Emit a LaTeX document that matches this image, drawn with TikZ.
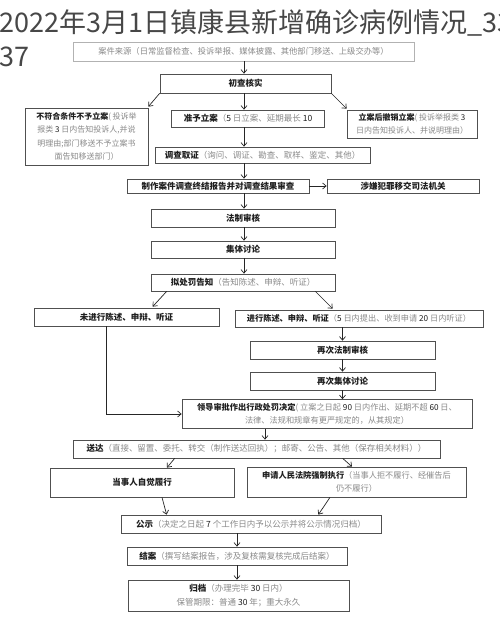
\documentclass[tikz,border=0pt]{standalone}
\usepackage{fontspec}
\setmainfont{Noto Sans CJK SC}
\usetikzlibrary{arrows.meta}
\definecolor{gtx}{HTML}{8A8A8A}
\definecolor{btx}{HTML}{1E1E1E}
\definecolor{bdr}{HTML}{505050}
\newcommand{\gr}[1]{{\mdseries\color{gtx}#1}}
\newcommand{\nb}[1]{{\color{btx}#1}}
\newcommand{\bd}[1]{{\bfseries\color{btx}#1}}
\begin{document}
\begin{tikzpicture}[x=1pt,y=-1pt,
  box/.style={draw=bdr,line width=0.7pt,inner sep=0pt,align=center,font=\fontsize{8.5}{12}\selectfont},
  sz/.style n args={2}{minimum width=#1pt,minimum height=#2pt},
  arr/.style={draw=black!85,line width=0.7pt,-{Straight Barb[length=3.5pt,width=6pt]}}]
\useasboundingbox (0,0) rectangle (500,627);
\fill[white] (0,0) rectangle (500,627);
\clip (0,0) rectangle (500,627);

\node[box,draw=black!30,sz={341}{19},font=\fontsize{8.3}{10}\selectfont] (src) at (243.5,51.5) {\gr{案件来源（日常监督检查、投诉举报、媒体披露、其他部门移送、上级交办等）}};
\node[box,sz={171}{19}] (chk) at (245.5,83.5) {\bd{初查核实}};
\node[box,sz={123}{57},font=\fontsize{8}{13.5}\selectfont] (nofit) at (86.5,136.5) {\bd{不符合条件不予立案}\gr{( 投诉举}\\\gr{报类 \nb{3} 日内告知投诉人,并说}\\\gr{明理由;部门移送不予立案书}\\\gr{面告知移送部门）}};
\node[box,sz={153}{17}] (accept) at (248,118.5) {\bd{准予立案}\gr{（\nb{5} 日立案、延期最长 \nb{10}}};
\node[box,sz={130}{28},font=\fontsize{8}{12.5}\selectfont] (revoke) at (412,124) {\bd{立案后撤销立案}\gr{( 投诉举报类 \nb{3}}\\\gr{日内告知投诉人、并说明理由）}};
\node[box,sz={215}{16}] (inv) at (262.5,155) {\bd{调查取证}\gr{（询问、调证、勘查、取样、鉴定、其他）}};
\node[box,sz={182}{14}] (rep) at (218,186) {\bd{制作案件调查终结报告并对调查结果审查}};
\node[box,sz={152}{14}] (crime) at (403,186) {\bd{涉嫌犯罪移交司法机关}};
\node[box,sz={184}{18}] (law) at (243,218) {\bd{法制审核}};
\node[box,sz={184}{17}] (coll) at (243,249.5) {\bd{集体讨论}};
\node[box,sz={184}{17}] (notice) at (243,282.5) {\bd{拟处罚告知}\gr{（告知陈述、申辩、听证）}};
\node[box,sz={185}{18}] (noplea) at (126.5,317) {\bd{未进行陈述、申辩、听证}};
\node[box,sz={248}{17},font=\fontsize{8.2}{12}\selectfont] (plea) at (359,318.5) {\bd{进行陈述、申辩、听证}\gr{（\nb{5} 日内提出、收到申请 \nb{20} 日内听证）}};
\node[box,sz={185}{18}] (law2) at (342.5,350) {\bd{再次法制审核}};
\node[box,sz={185}{18}] (coll2) at (342.5,381) {\bd{再次集体讨论}};
\node[box,sz={290}{29},font=\fontsize{8.2}{12.5}\selectfont] (dec) at (327,414) {\bd{领导审批作出行政处罚决定}\gr{( 立案之日起 \nb{90} 日内作出、延期不超 \nb{60} 日、}\\\gr{法律、法规和规章有更严规定的，从其规定）}};
\node[box,sz={367}{18}] (serve) at (256.5,449) {\bd{送达}\gr{（直接、留置、委托、转交（制作送达回执）；邮寄、公告、其他（保存相关材料））}};
\node[box,sz={184}{29}] (self) at (142,482.5) {\bd{当事人自觉履行}};
\node[box,sz={219}{30},font=\fontsize{8.2}{13}\selectfont] (court) at (356.5,482) {\bd{申请人民法院强制执行}\gr{（当事人拒不履行、经催告后}\\\gr{仍不履行）}};
\node[box,sz={260}{18}] (pub) at (251,524) {\bd{公示}\gr{（决定之日起 \nb{7} 个工作日内予以公示并将公示情况归档）}};
\node[box,sz={220}{18}] (close) at (237,556) {\bd{结案}\gr{（撰写结案报告，涉及复核需复核完成后结案）}};
\node[box,sz={221}{31},font=\fontsize{8.5}{13.5}\selectfont] (arch) at (238.5,595.5) {\bd{归档}\gr{（办理完毕 \nb{30} 日内）}\\\gr{保管期限：普通 \nb{30} 年；重大永久}};

\coordinate (cx) at (244,0);
\coordinate (xl) at (106.5,0);
\draw[arr] (src.south -| cx) -- (chk.north -| cx);
\draw[arr] (chk.south west) -- ([yshift=1pt]nofit.north east);
\draw[arr] (chk.south -| cx) -- (accept.north -| cx);
\draw[arr] (chk.south east) -- ([yshift=1pt]revoke.north west);
\draw[arr] (accept.south -| cx) -- (inv.north -| cx);
\draw[arr] (inv.south -| cx) -- (rep.north -| cx);
\draw[arr] (rep.east) -- (crime.west);
\draw[arr] (rep.south -| cx) -- (law.north -| cx);
\draw[arr] (law.south -| cx) -- (coll.north -| cx);
\draw[arr] (coll.south -| cx) -- (notice.north -| cx);
\draw[arr] ([xshift=16pt]notice.south west) -- ([xshift=119pt,yshift=1pt]noplea.north west);
\draw[arr] ([xshift=-20pt]notice.south east) -- ([xshift=98pt,yshift=1pt]plea.north west);
\draw[arr] (plea.south -| law2.north) -- (law2.north);
\draw[arr] (law2.south) -- (coll2.north);
\draw[arr] (coll2.south) -- (coll2.south |- dec.north);
\draw[arr] (noplea.south -| xl) |- (dec.west);
\draw[arr] ([xshift=-62pt]dec.south) -- ([xshift=-62pt]dec.south |- serve.north);
\draw[arr] ([xshift=102pt]serve.south west) -- ([xshift=25pt]self.north);
\draw[arr] ([xshift=270pt]serve.south west) -- ([xshift=-4.5pt]court.north);
\draw[arr] ([xshift=20pt]self.south) -- ([xshift=46pt]pub.north west);
\draw[arr] ([xshift=-26.5pt]court.south) -- ([xshift=-63pt]pub.north east);
\draw[arr] (close.north |- pub.south) -- (close.north);
\draw[arr] (close.south) -- (close.south |- arch.north);

\node[anchor=base west,inner sep=0pt,font=\fontsize{27}{32}\selectfont,text=black!72] (ttl) at (-1,32) {2022年3月1日镇康县新增确诊病例情况\_332};
\node[anchor=base west,inner sep=0pt,font=\fontsize{27}{32}\selectfont,text=black!72] (ttl2) at (-1,66) {37};
\end{tikzpicture}
\end{document}
